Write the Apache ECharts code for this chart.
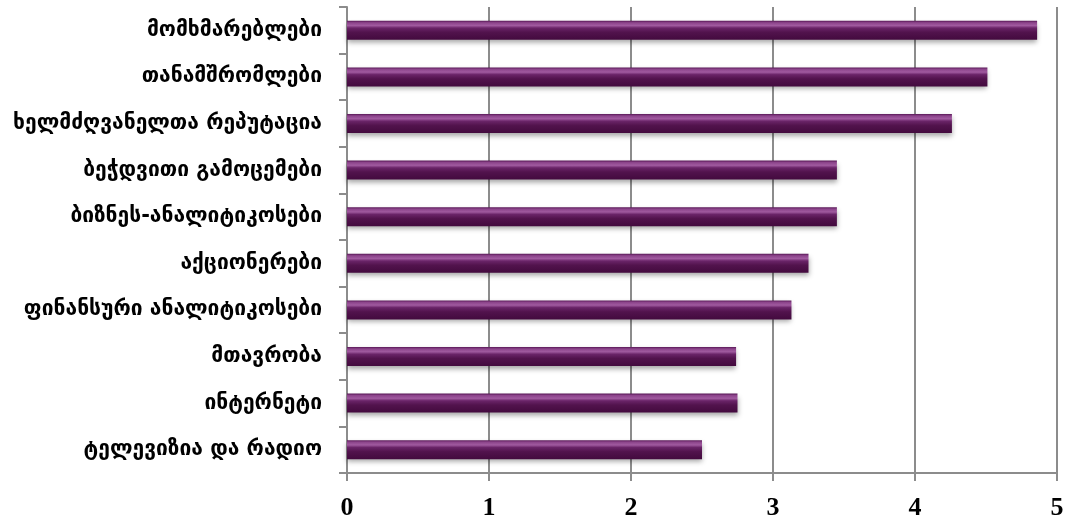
<!DOCTYPE html>
<html>
<head>
<meta charset="utf-8">
<script src="https://cdn.jsdelivr.net/npm/echarts@6/dist/echarts.min.js"></script>
<style>html,body{margin:0;padding:0;background:#fff}#c{width:1074px;height:524px}</style>
</head>
<body>
<div id="c"></div>
<script>
const categories = [
  'ტელევიზია და რადიო',
  'ინტერნეტი',
  'მთავრობა',
  'ფინანსური ანალიტიკოსები',
  'აქციონერები',
  'ბიზნეს-ანალიტიკოსები',
  'ბეჭდვითი გამოცემები',
  'ხელმძღვანელთა რეპუტაცია',
  'თანამშრომლები',
  'მომხმარებლები'
];
const values = [2.50, 2.75, 2.74, 3.13, 3.25, 3.45, 3.45, 4.26, 4.51, 4.86];
const xTicks = [0, 1, 2, 3, 4, 5];

const chart = echarts.init(document.getElementById('c'));
chart.setOption({
  animation: false,
  grid: { left: 347, right: 17, top: 7, bottom: 51, containLabel: false },
  xAxis: {
    type: 'value', min: xTicks[0], max: xTicks[xTicks.length - 1], interval: 1,
    axisLine: { show: true, lineStyle: { color: '#8c8c8c', width: 2 } },
    axisTick: { show: true, length: 8, lineStyle: { color: '#8c8c8c', width: 2 } },
    splitLine: { show: true, lineStyle: { color: '#8c8c8c', width: 2 } },
    axisLabel: { margin: 22, color: '#000', fontFamily: 'Liberation Serif', fontWeight: 'bold', fontSize: 26 }
  },
  yAxis: {
    type: 'category', data: categories,
    axisLine: { show: true, lineStyle: { color: '#8c8c8c', width: 2 } },
    axisTick: { show: true, length: 8, inside: false, lineStyle: { color: '#8c8c8c', width: 2 } },
    axisLabel: { margin: 25, color: '#000', fontFamily: 'DejaVu Sans', fontWeight: 'bold', fontSize: 21 }
  },
  series: [{
    type: 'bar', data: values, barWidth: 19,
    itemStyle: {
      color: new echarts.graphic.LinearGradient(0, 0, 0, 1, [
        { offset: 0, color: '#581856' },
        { offset: 0.1, color: '#8c448b' },
        { offset: 0.25, color: '#a05a9f' },
        { offset: 0.38, color: '#6a2468' },
        { offset: 0.6, color: '#52134d' },
        { offset: 1, color: '#430a3e' }
      ]),
      shadowColor: 'rgba(0,0,0,0.35)', shadowBlur: 5, shadowOffsetY: 3
    }
  }]
});
</script>
</body>
</html>
